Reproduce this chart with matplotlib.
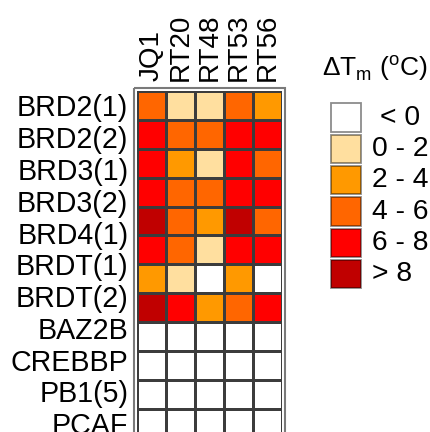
import numpy as np
import matplotlib
matplotlib.use("Agg")
import matplotlib.pyplot as plt
from matplotlib.colors import ListedColormap, BoundaryNorm
from matplotlib.patches import Rectangle

plt.rcParams['font.family'] = ['Liberation Sans', 'DejaVu Sans']

# ---- data ----
compounds = ["JQ1", "RT20", "RT48", "RT53", "RT56"]
row_labels = ["BRD2(1)", "BRD2(2)", "BRD3(1)", "BRD3(2)", "BRD4(1)", "BRDT(1)",
              "BRDT(2)", "BAZ2B", "CREBBP", "PB1(5)", "PCAF"]
# estimated ΔTm (°C) per grid row (12 rows drawn) x compound
dtm = np.array([
    [5, 1, 1, 5, 3],
    [7, 5, 5, 7, 7],
    [7, 3, 1, 7, 5],
    [7, 5, 5, 7, 7],
    [9, 5, 3, 9, 5],
    [7, 5, 1, 7, 7],
    [3, 1, -1, 3, -1],
    [9, 7, 3, 5, 7],
    [-1, -1, -1, -1, -1],
    [-1, -1, -1, -1, -1],
    [-1, -1, -1, -1, -1],
    [-1, -1, -1, -1, -1],
])
bin_edges = [-100, 0, 2, 4, 6, 8, 100]
bin_labels = ["< 0", "0 - 2", "2 - 4", "4 - 6", "6 - 8", "> 8"]
bin_colors = ["#FFFFFF", "#FFDF9F", "#FF9900", "#FF6600", "#FF0000", "#C00000"]

W, H = 431, 432
fig = plt.figure(figsize=(W / 100, H / 100), dpi=100)

# heatmap axes (pixel layout)
x0, x1, ytop = 137.3, 281.7, 91.0
ax = fig.add_axes([x0 / W, 0, (x1 - x0) / W, (H - ytop) / H])
cmap = ListedColormap(bin_colors)
norm = BoundaryNorm(bin_edges, cmap.N)
nrows, ncols = dtm.shape
ax.pcolormesh(np.arange(ncols + 1), np.arange(nrows + 1), dtm, cmap=cmap, norm=norm,
              edgecolors='#3c3c3c', linewidth=0.9)
cell = (x1 - x0) / ncols
ax.set_xlim(0, ncols)
ax.set_ylim((H - ytop) / cell, 0)
for s in ax.spines.values():
    s.set_visible(False)

# outer frame
off = 3.0 / cell
ax.add_patch(Rectangle((-off, -off), ncols + 2 * off, nrows + 2, fill=False,
                       edgecolor='#7a7a7a', linewidth=1.5, clip_on=False))

ax.xaxis.tick_top()
ax.set_xticks(np.arange(ncols) + 0.5)
ax.set_xticklabels(compounds, rotation=90, fontsize=20)
ax.set_yticks(np.linspace(0.5, nrows - 0.5, len(row_labels)))
ax.set_yticklabels(row_labels, fontsize=20.6)
ax.tick_params(length=0)
ax.tick_params(axis='x', pad=7)
ax.tick_params(axis='y', pad=6.5)

# legend axes in pixel coordinates
lax = fig.add_axes([0, 0, 1, 1])
lax.set_xlim(0, W)
lax.set_ylim(H, 0)
lax.axis('off')
lax.text(322, 76, r'ΔT$_{\mathregular{m}}$ ($^{\mathregular{o}}$C)', fontsize=19,
         ha='left', va='baseline')
for i, (lab, col) in enumerate(zip(bin_labels, bin_colors)):
    yb = 103.3 + i * 31.3
    lax.add_patch(Rectangle((331, yb), 29.7, 28.3, facecolor=col,
                            edgecolor=(0, 0, 0, 0.45), linewidth=1.3))
    lax.text(372 if i > 0 else 380, yb + 14.5, lab, fontsize=20.3, ha='left', va='center')

fig.savefig("out.png", dpi=100)
